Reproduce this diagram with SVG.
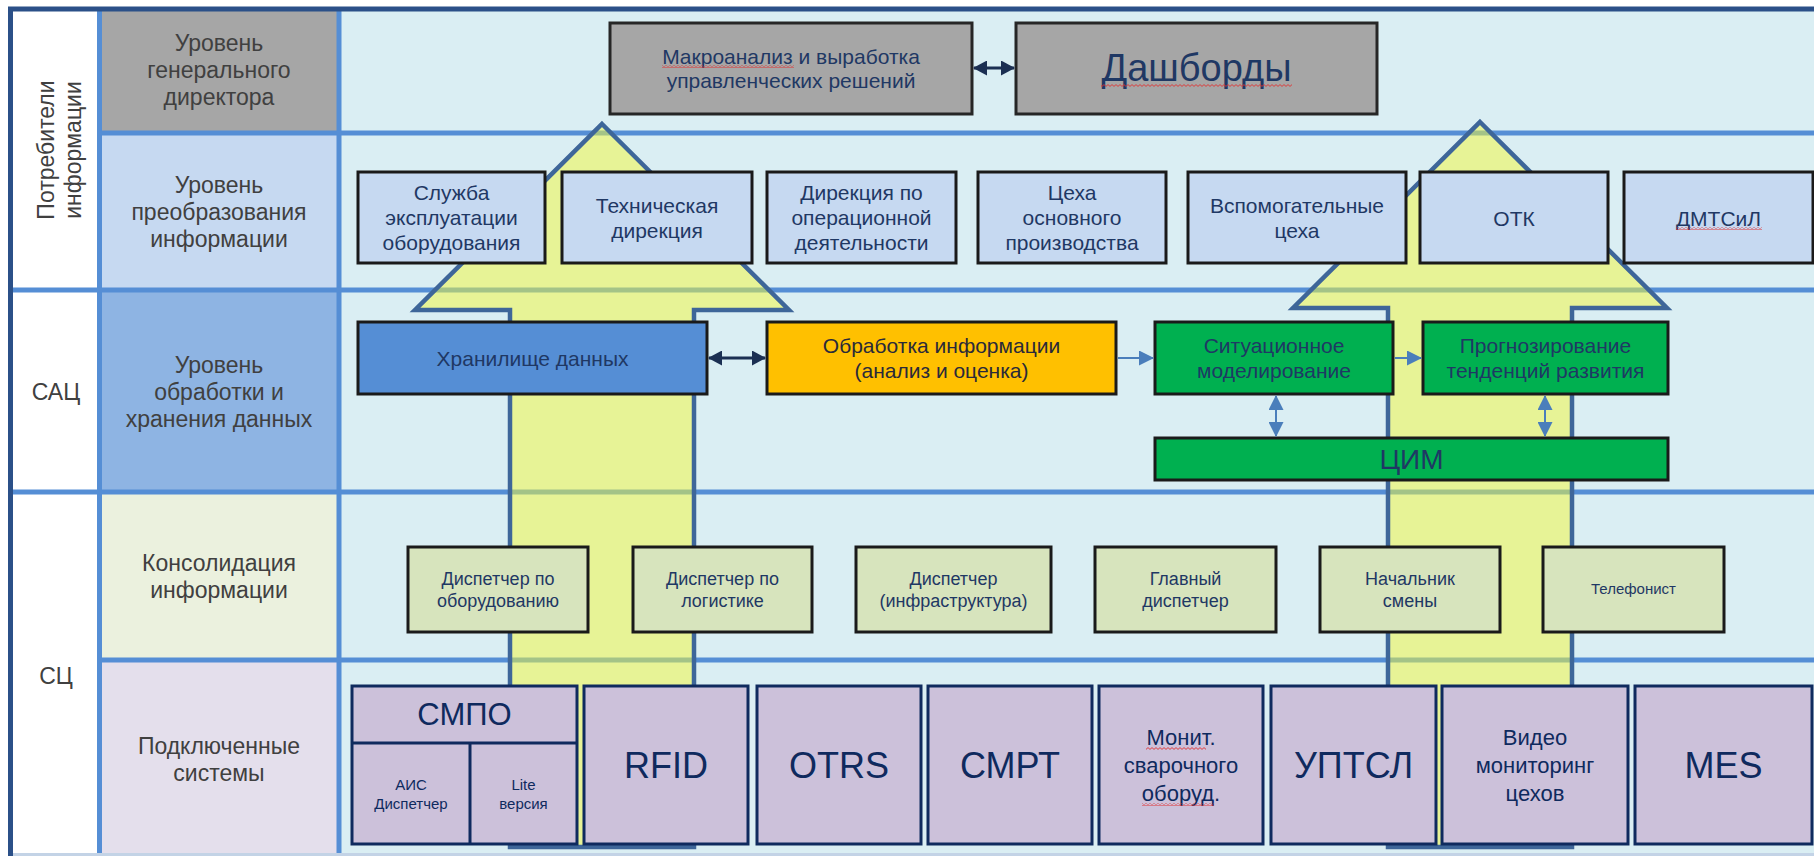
<svg xmlns="http://www.w3.org/2000/svg" width="1814" height="856" viewBox="0 0 1814 856">
<style>
text { font-family: "Liberation Sans", Arial, sans-serif; text-anchor: middle; }
.lvl { font-size: 23px; fill: #404040; }
.n21 { font-size: 21px; fill: #1f3864; }
.n18 { font-size: 18px; fill: #1f3864; }
.n15 { font-size: 15px; fill: #1f3864; }
.n22 { font-size: 22px; fill: #0f2a5e; }
.big { font-size: 36px; fill: #0f2a5e; }
.box-gray { fill: #a6a6a6; stroke: #262626; stroke-width: 3; }
.box-l2 { fill: #c6d9f1; stroke: #1a1a1a; stroke-width: 3; }
.box-l3 { stroke: #1a1a1a; stroke-width: 3; }
.box-l4 { fill: #d7e4bd; stroke: #1a1a1a; stroke-width: 3; }
.box-l5 { fill: #ccc1da; stroke: #0f2a5e; stroke-width: 3; }
.grid { stroke: #558ed5; stroke-width: 5; fill: none; }
.frame { stroke: #2b5088; stroke-width: 5; fill: none; }
.flow { fill: #f4f83a; fill-opacity: 0.5; stroke: #3e6699; stroke-width: 4.5; stroke-linejoin: miter; }
.conn-navy { stroke: #1b2f52; stroke-width: 3; fill: none; }
.conn-blue { stroke: #4a7ebb; stroke-width: 2; fill: none; }
.sq { fill: url(#squiggle); }
</style>
<defs>
<marker id="ah-navy" viewBox="0 0 14 15" refX="13" refY="7.5" markerWidth="14" markerHeight="15" markerUnits="userSpaceOnUse" orient="auto-start-reverse">
<path d="M0,0 L14,7.5 L0,15 z" fill="#1b2f52"/>
</marker>
<marker id="ah-blue" viewBox="0 0 15 15" refX="14" refY="7.5" markerWidth="15" markerHeight="15" markerUnits="userSpaceOnUse" orient="auto-start-reverse">
<path d="M0,0 L15,7.5 L0,15 z" fill="#4a7ebb"/>
</marker>
<pattern id="squiggle" x="0" y="0" width="4" height="3" patternUnits="userSpaceOnUse">
<path d="M0,0.6 L2,2.4 L4,0.6" fill="none" stroke="#e03030" stroke-width="0.9"/>
</pattern>
</defs>

<g id="background">
<rect x="0" y="0" width="1814" height="856" fill="#ffffff"/>
<rect x="10" y="9" width="89" height="847" fill="#ffffff"/>
<rect x="99" y="9" width="240" height="124" fill="#a6a6a6"/>
<rect x="99" y="133" width="240" height="157" fill="#c6d9f1"/>
<rect x="99" y="290" width="240" height="202" fill="#8eb4e3"/>
<rect x="99" y="492" width="240" height="168" fill="#ebf1de"/>
<rect x="99" y="660" width="240" height="196" fill="#e4dfec"/>
<rect x="339" y="9" width="1475" height="847" fill="#daeef3"/>
</g>

<g id="grid">
<line class="grid" x1="99.5" y1="9" x2="99.5" y2="856"/>
<line class="grid" x1="339" y1="9" x2="339" y2="856"/>
<line class="grid" x1="99" y1="133" x2="1814" y2="133"/>
<line class="grid" x1="10" y1="290" x2="1814" y2="290"/>
<line class="grid" x1="10" y1="492" x2="1814" y2="492"/>
<line class="grid" x1="99" y1="660" x2="1814" y2="660"/>
<line x1="12" y1="854.5" x2="1814" y2="854.5" stroke="#c3d3e6" stroke-width="3"/>
<line class="frame" x1="8" y1="9" x2="1814" y2="9"/>
<line class="frame" x1="10.5" y1="7" x2="10.5" y2="856"/>
</g>

<g id="row-labels">
<text class="lvl" transform="translate(54,150) rotate(-90)">Потребители</text>
<text class="lvl" transform="translate(81,150) rotate(-90)">информации</text>
<text class="lvl" x="56" y="400">САЦ</text>
<text class="lvl" x="56" y="684">СЦ</text>
<text class="lvl"><tspan x="219" y="51">Уровень</tspan><tspan x="219" y="78">генерального</tspan><tspan x="219" y="105">директора</tspan></text>
<text class="lvl"><tspan x="219" y="193">Уровень</tspan><tspan x="219" y="220">преобразования</tspan><tspan x="219" y="247">информации</tspan></text>
<text class="lvl"><tspan x="219" y="372.5">Уровень</tspan><tspan x="219" y="399.5">обработки и</tspan><tspan x="219" y="426.5">хранения данных</tspan></text>
<text class="lvl"><tspan x="219" y="571">Консолидация</tspan><tspan x="219" y="598">информации</tspan></text>
<text class="lvl"><tspan x="219" y="753.5">Подключенные</tspan><tspan x="219" y="780.5">системы</tspan></text>
</g>

<g id="flow-arrows">
<path class="flow" d="M602,124 L789,310 L694,310 L694,847 L510,847 L510,310 L415,310 Z"/>
<path class="flow" d="M1480,122 L1667,308 L1572,308 L1572,847 L1388,847 L1388,308 L1293,308 Z"/>
</g>

<g id="node-macro">
<rect class="box-gray" x="610" y="23" width="362" height="91"/>
<text class="n21"><tspan x="791" y="63.5">Макроанализ и выработка</tspan><tspan x="791" y="87.5">управленческих решений</tspan></text>
<rect class="sq" x="662" y="65" width="132" height="3"/>
</g>
<g id="node-dashboards">
<rect class="box-gray" x="1016" y="23" width="361" height="91"/>
<text x="1196.5" y="81" style="font-size:38px;fill:#1f3864">Дашборды</text>
<rect class="sq" x="1101" y="84" width="191" height="3"/>
</g>

<g id="node-sluzhba">
<rect class="box-l2" x="358" y="172" width="187" height="91"/>
<text class="n21"><tspan x="451.5" y="200">Служба</tspan><tspan x="451.5" y="225">эксплуатации</tspan><tspan x="451.5" y="250">оборудования</tspan></text>
</g>
<g id="node-tech">
<rect class="box-l2" x="562" y="172" width="190" height="91"/>
<text class="n21"><tspan x="657" y="212.5">Техническая</tspan><tspan x="657" y="237.5">дирекция</tspan></text>
</g>
<g id="node-oper">
<rect class="box-l2" x="767" y="172" width="189" height="91"/>
<text class="n21"><tspan x="861.5" y="200">Дирекция по</tspan><tspan x="861.5" y="225">операционной</tspan><tspan x="861.5" y="250">деятельности</tspan></text>
</g>
<g id="node-main-shops">
<rect class="box-l2" x="978" y="172" width="188" height="91"/>
<text class="n21"><tspan x="1072" y="200">Цеха</tspan><tspan x="1072" y="225">основного</tspan><tspan x="1072" y="250">производства</tspan></text>
</g>
<g id="node-aux-shops">
<rect class="box-l2" x="1188" y="172" width="218" height="91"/>
<text class="n21"><tspan x="1297" y="212.5">Вспомогательные</tspan><tspan x="1297" y="237.5">цеха</tspan></text>
</g>
<g id="node-otk">
<rect class="box-l2" x="1420" y="172" width="188" height="91"/>
<text class="n21" x="1514" y="225.5">ОТК</text>
</g>
<g id="node-dmtsil">
<rect class="box-l2" x="1624" y="172" width="189" height="91"/>
<text class="n21" x="1718.5" y="225.5">ДМТСиЛ</text>
<rect class="sq" x="1676" y="227" width="86" height="3"/>
</g>

<g id="node-storage">
<rect class="box-l3" x="358" y="322" width="349" height="72" fill="#558ed5"/>
<text class="n21" x="532.5" y="365.5">Хранилище данных</text>
</g>
<g id="node-processing">
<rect class="box-l3" x="767" y="322" width="349" height="72" fill="#ffc000"/>
<text class="n21" style="fill:#2a2a3a"><tspan x="941.5" y="353">Обработка информации</tspan><tspan x="941.5" y="378">(анализ и оценка)</tspan></text>
</g>
<g id="node-modeling">
<rect class="box-l3" x="1155" y="322" width="238" height="72" fill="#00b050"/>
<text class="n21"><tspan x="1274" y="353">Ситуационное</tspan><tspan x="1274" y="378">моделирование</tspan></text>
</g>
<g id="node-forecast">
<rect class="box-l3" x="1423" y="322" width="245" height="72" fill="#00b050"/>
<text class="n21"><tspan x="1545.5" y="353">Прогнозирование</tspan><tspan x="1545.5" y="378">тенденций развития</tspan></text>
</g>
<g id="node-cim">
<rect class="box-l3" x="1155" y="438" width="513" height="42" fill="#00b050"/>
<text x="1411.5" y="469" style="font-size:28px;fill:#1f3864">ЦИМ</text>
</g>

<g id="node-disp-equip">
<rect class="box-l4" x="408" y="547" width="180" height="85"/>
<text class="n18"><tspan x="498" y="585">Диспетчер по</tspan><tspan x="498" y="607">оборудованию</tspan></text>
</g>
<g id="node-disp-logistics">
<rect class="box-l4" x="633" y="547" width="179" height="85"/>
<text class="n18"><tspan x="722.5" y="585">Диспетчер по</tspan><tspan x="722.5" y="607">логистике</tspan></text>
</g>
<g id="node-disp-infra">
<rect class="box-l4" x="856" y="547" width="195" height="85"/>
<text class="n18"><tspan x="953.5" y="585">Диспетчер</tspan><tspan x="953.5" y="607">(инфраструктура)</tspan></text>
</g>
<g id="node-chief-disp">
<rect class="box-l4" x="1095" y="547" width="181" height="85"/>
<text class="n18"><tspan x="1185.5" y="585">Главный</tspan><tspan x="1185.5" y="607">диспетчер</tspan></text>
</g>
<g id="node-shift-head">
<rect class="box-l4" x="1320" y="547" width="180" height="85"/>
<text class="n18"><tspan x="1410" y="585">Начальник</tspan><tspan x="1410" y="607">смены</tspan></text>
</g>
<g id="node-telephonist">
<rect class="box-l4" x="1543" y="547" width="181" height="85"/>
<text class="n15" x="1633.5" y="594">Телефонист</text>
</g>

<g id="node-smpo">
<rect class="box-l5" x="352" y="686" width="225" height="158"/>
<line x1="352" y1="743" x2="577" y2="743" stroke="#0f2a5e" stroke-width="3"/>
<line x1="470" y1="743" x2="470" y2="844" stroke="#0f2a5e" stroke-width="3"/>
<text x="464.5" y="725" style="font-size:31px;fill:#0f2a5e">СМПО</text>
<text class="n15" style="fill:#0f2a5e"><tspan x="411" y="790">АИС</tspan><tspan x="411" y="809">Диспетчер</tspan></text>
<text class="n15" style="fill:#0f2a5e"><tspan x="523.5" y="790">Lite</tspan><tspan x="523.5" y="809">версия</tspan></text>
</g>
<g id="node-rfid">
<rect class="box-l5" x="584" y="686" width="164" height="158"/>
<text class="big" x="666" y="778">RFID</text>
</g>
<g id="node-otrs">
<rect class="box-l5" x="757" y="686" width="164" height="158"/>
<text class="big" x="839" y="778">OTRS</text>
</g>
<g id="node-smrt">
<rect class="box-l5" x="928" y="686" width="164" height="158"/>
<text class="big" x="1010" y="778">СМРТ</text>
</g>
<g id="node-welding">
<rect class="box-l5" x="1099" y="686" width="164" height="158"/>
<text class="n22"><tspan x="1181" y="745">Монит.</tspan><tspan x="1181" y="773">сварочного</tspan><tspan x="1181" y="801">оборуд.</tspan></text>
<rect class="sq" x="1146" y="747" width="60" height="3"/>
<rect class="sq" x="1142" y="803" width="72" height="3"/>
</g>
<g id="node-uptsl">
<rect class="box-l5" x="1271" y="686" width="165" height="158"/>
<text class="big" x="1353.5" y="778">УПТСЛ</text>
</g>
<g id="node-video">
<rect class="box-l5" x="1442" y="686" width="186" height="158"/>
<text class="n22"><tspan x="1535" y="745">Видео</tspan><tspan x="1535" y="773">мониторинг</tspan><tspan x="1535" y="801">цехов</tspan></text>
</g>
<g id="node-mes">
<rect class="box-l5" x="1635" y="686" width="177" height="158"/>
<text class="big" x="1723.5" y="778">MES</text>
</g>

<g id="connectors">
<path class="conn-navy" d="M974,68 H1014" marker-start="url(#ah-navy)" marker-end="url(#ah-navy)"/>
<path class="conn-navy" d="M709,358 H765" marker-start="url(#ah-navy)" marker-end="url(#ah-navy)"/>
<path class="conn-blue" d="M1118,358 H1153" marker-end="url(#ah-blue)"/>
<path class="conn-blue" d="M1395,358 H1421" marker-end="url(#ah-blue)"/>
<path class="conn-blue" d="M1276,396 V436" marker-start="url(#ah-blue)" marker-end="url(#ah-blue)"/>
<path class="conn-blue" d="M1545,396 V436" marker-start="url(#ah-blue)" marker-end="url(#ah-blue)"/>
</g>
</svg>
